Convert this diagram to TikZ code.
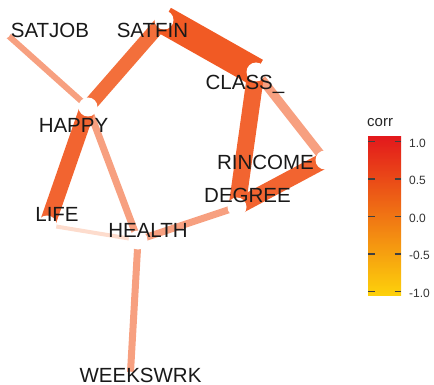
\documentclass[tikz,border=0pt]{standalone}
\usepackage{fontspec}
\setmainfont{Liberation Sans}
\definecolor{edgeA}{HTML}{F15A24}
\definecolor{edgeB}{HTML}{F26430}
\definecolor{edgeC}{HTML}{F36F3B}
\definecolor{edgeD}{HTML}{F7A080}
\definecolor{edgeE}{HTML}{FDDCCD}
\definecolor{corrhi}{HTML}{E3191C}
\definecolor{corrmid}{HTML}{F47C20}
\definecolor{corrlo}{HTML}{FDD10B}
\tikzset{
  varlabel/.style={font=\fontsize{20.5}{24}\selectfont, anchor=base, inner sep=0pt, text=black!90},
  ticklabel/.style={font=\fontsize{12}{14}\selectfont, anchor=west, inner sep=0pt, text=black!80},
  corredge/.style={line cap=butt}
}
\begin{document}
\begin{tikzpicture}[x=1pt,y=-1pt]
  \useasboundingbox (0,0) rectangle (434,385);
  \coordinate (satjob) at (2,30);
  \coordinate (satfin) at (164,20);
  \coordinate (happy) at (88,107);
  \coordinate (class) at (256,72);
  \coordinate (rincome) at (325,160);
  \coordinate (degree) at (237,207);
  \coordinate (life) at (47,225);
  \coordinate (health) at (138,240);
  \coordinate (weekswrk) at (130,381);
  \draw [corredge, edgeE, line width=4] (life) -- (health);
  \draw [corredge, edgeD, line width=6] (satjob) -- (happy);
  \draw [corredge, edgeD, line width=7] (happy) -- (health);
  \draw [corredge, edgeD, line width=7] (health) -- (degree);
  \draw [corredge, edgeD, line width=7] (health) -- (weekswrk);
  \draw [corredge, edgeD, line width=9] (class) -- (rincome);
  \draw [corredge, edgeC, line width=14] (happy) -- (satfin);
  \draw [corredge, edgeB, line width=16] (happy) -- (life);
  \draw [corredge, edgeB, line width=16] (rincome) -- (degree);
  \draw [corredge, edgeB, line width=17] (class) -- (degree);
  \draw [corredge, edgeA, line width=28] (satfin) -- (class);
  \foreach \v in {satjob,satfin,happy,class,rincome,degree,life,health,weekswrk}
    \fill [white] (\v) circle (9.5);
  \node [varlabel] (satjob-lbl) at (50,38) {SATJOB};
  \node [varlabel] (satfin-lbl) at (152.5,38) {SATFIN};
  \node [varlabel] (class-lbl) at (245,90) {CLASS\_};
  \node [varlabel] (happy-lbl) at (73.5,133) {HAPPY};
  \node [varlabel] (rincome-lbl) at (265.5,170) {RINCOME};
  \node [varlabel] (degree-lbl) at (247.5,202) {DEGREE};
  \node [varlabel] (life-lbl) at (57,222) {LIFE};
  \node [varlabel] (health-lbl) at (148,237) {HEALTH};
  \node [varlabel] (weekswrk-lbl) at (140.5,382) {WEEKSWRK};
  \node [font=\fontsize{15}{18}\selectfont, anchor=base west, inner sep=0pt, text=black!85] (legend-title) at (367,127) {corr};
  \shade [top color=corrhi, middle color=corrmid, bottom color=corrlo] (368,137) rectangle (401,295);
  \foreach \y/\t in {141.7/1.0, 179/0.5, 216.7/0.0, 254/-0.5, 291.7/-1.0} {
    \draw [black!75, line width=1.3] (368,\y) -- (374.5,\y);
    \draw [black!75, line width=1.3] (394.5,\y) -- (401,\y);
    \node [ticklabel] at (409,\y+1.5) {\t};
  }
\end{tikzpicture}
\end{document}
